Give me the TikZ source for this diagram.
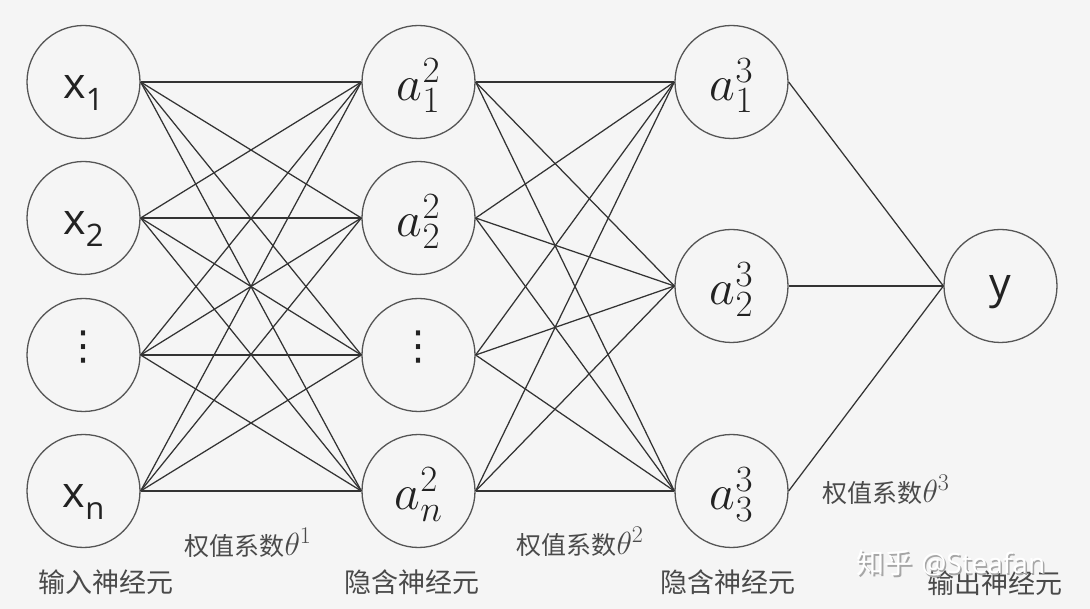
\RequirePackage{fix-cm}
\documentclass[tikz,border=0pt]{standalone}
\usepackage{fontspec}
\newfontfamily\cjk{Noto Sans CJK SC}
\newfontfamily\osans{Open Sans}
\newfontfamily\dvs{DejaVu Sans}
\DeclareMathSizes{50}{50}{37}{30}
\DeclareMathSizes{32}{32}{24}{18}
\definecolor{bg}{HTML}{F5F5F5}
\definecolor{circ}{HTML}{555555}
\definecolor{edge}{HTML}{333333}
\definecolor{txt}{HTML}{222222}
\definecolor{lab}{HTML}{4A4A4A}
\tikzset{
  neuron/.style={circle, draw=circ, line width=1.3pt, fill=bg, minimum size=113pt, inner sep=0pt, text=txt},
  xlab/.style={text height=33pt, text depth=0pt},
  alab/.style={text height=37pt, text depth=0pt},
  wire/.style={draw=edge, line width=1.25pt},
  caption/.style={text=lab, inner sep=0pt, font=\cjk\fontsize{27}{27}\selectfont},
  wlabel/.style={text=lab, inner sep=0pt, font=\cjk\fontsize{25}{25}\selectfont}
}
\newcommand{\xs}[1]{{\osans\fontsize{43}{43}\selectfont x\raisebox{-12pt}{\fontsize{31}{31}\selectfont #1}}}
\newcommand{\am}[1]{{\fontsize{50}{50}\selectfont$#1$}}
\newcommand{\thw}[1]{{\fontsize{32}{32}\selectfont$\theta^#1$}}
\begin{document}
\begin{tikzpicture}[x=1pt,y=-1pt]
\fill[bg] (0,0) rectangle (1090,609);
\useasboundingbox (0,0) rectangle (1090,609);
\coordinate (L11) at (83.5,82);
\coordinate (L12) at (83.5,218);
\coordinate (L13) at (83.5,355);
\coordinate (L14) at (83.5,491);
\coordinate (L21) at (418.5,82);
\coordinate (L22) at (418.5,218);
\coordinate (L23) at (418.5,355);
\coordinate (L24) at (418.5,491);
\coordinate (L31) at (731.5,82);
\coordinate (L32) at (731.5,286);
\coordinate (L33) at (731.5,491);
\coordinate (L41) at (1000.5,286);

\node[neuron, xlab] (x1) at (L11) {\xs{1}};
\node[neuron, xlab] (x2) at (L12) {\xs{2}};
\node[neuron, text height=20pt, text depth=10pt] (x3) at (L13) {{\dvs\fontsize{40}{40}\selectfont ⋮}};
\node[neuron, xlab] (x4) at (L14) {\xs{n}};

\node[neuron, alab] (h1) at (L21) {\am{a_1^2}};
\node[neuron, alab] (h2) at (L22) {\am{a_2^2}};
\node[neuron, text height=20pt, text depth=10pt] (h3) at (L23) {{\dvs\fontsize{40}{40}\selectfont ⋮}};
\node[neuron, alab] (h4) at (L24) {\am{a_n^2}};

\node[neuron, alab] (k1) at (L31) {\am{a_1^3}};
\node[neuron, alab] (k2) at (L32) {\am{a_2^3}};
\node[neuron, alab] (k3) at (L33) {\am{a_3^3}};

\node[neuron, text height=26pt, text depth=0pt] (y) at (L41) {{\osans\fontsize{43}{43}\selectfont y}};

\foreach \i in {1,2,3,4}{
  \foreach \j in {1,2,3,4}{
    \draw[wire] (x\i.east) -- (h\j.west);
  }
}
\foreach \i in {1,2,3,4}{
  \foreach \j in {1,2,3}{
    \draw[wire] (h\i.east) -- (k\j.west);
  }
}
\foreach \j in {1,2,3}{
  \draw[wire] (k\j.east) -- (y.west);
}

\node[wlabel] (w1) at (248,543) {权值系数\thw{1}};
\node[wlabel] (w2) at (580,542) {权值系数\thw{2}};
\node[wlabel] (w3) at (886,490) {权值系数\thw{3}};

\node[caption] (c1) at (106,582) {输入神经元};
\node[caption] (c2) at (412,582) {隐含神经元};
\node[caption] (c3) at (728,582) {隐含神经元};
\node[caption] (c4) at (995,583) {输出神经元};

\node[inner sep=0pt, text=gray!70, font=\fontsize{28}{28}\selectfont] (wms) at (952.5,564.5) {{\cjk 知乎} {\osans @Steafan}};
\node[inner sep=0pt, text=white, font=\fontsize{28}{28}\selectfont] (wm) at (951,563) {{\cjk 知乎} {\osans @Steafan}};
\end{tikzpicture}
\end{document}
